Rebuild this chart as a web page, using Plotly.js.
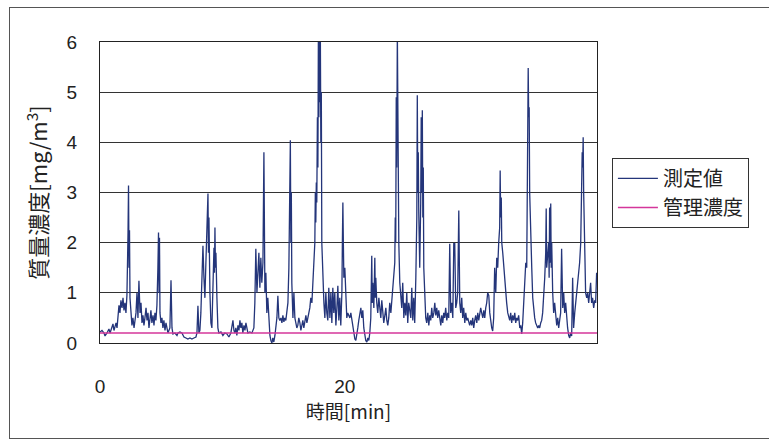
<!DOCTYPE html>
<html>
<head>
<meta charset="utf-8">
<script src="https://cdn.plot.ly/plotly-3.0.1.min.js"></script>
<style>
  html, body { margin: 0; padding: 0; background: #ffffff; overflow: hidden; }
  #wrap { position: relative; width: 769px; height: 445px; }
  #frame { position: absolute; left: 9px; top: 7px; width: 800px; height: 432px; border: 1px solid #555; box-sizing: border-box; pointer-events: none; }
  #chart { position: absolute; left: 0; top: 0; width: 769px; height: 445px; }
</style>
</head>
<body>
<div id="wrap">
  <div id="chart"></div>
  <div id="frame"></div>
</div>
<script>
// time [min]
const timeMin = [
  0.00,0.16,0.33,0.41,0.57,0.73,0.82,0.98,1.06,1.14,1.22,1.31,1.39,1.47,1.55,1.63,1.71,1.80,1.88,1.96,
  2.04,2.12,2.20,2.29,2.33,2.37,2.41,2.45,2.53,2.61,2.69,2.78,2.86,2.94,3.02,3.10,3.18,3.27,3.35,3.43,
  3.51,3.59,3.67,3.76,3.84,3.92,4.00,4.08,4.16,4.24,4.33,4.41,4.49,4.57,4.65,4.73,4.78,4.82,4.86,4.90,
  4.98,5.06,5.14,5.22,5.31,5.39,5.47,5.55,5.71,5.80,5.88,5.96,6.12,6.29,6.37,6.53,
  6.69,6.86,7.02,7.18,7.35,7.51,7.67,7.84,7.92,8.00,8.08,8.16,8.24,8.33,8.41,8.49,8.57,8.65,8.73,8.82,
  8.86,8.90,8.98,9.06,9.14,9.22,9.31,9.35,9.39,9.43,9.47,9.55,9.63,9.71,9.88,10.04,10.20,10.37,10.53,10.69,
  10.86,10.94,11.02,11.10,11.18,11.27,11.35,11.43,11.51,11.59,11.67,11.76,11.84,11.92,12.00,12.08,12.24,12.41,12.57,
  12.65,12.73,12.82,12.90,12.98,13.06,13.14,13.22,13.31,13.39,13.43,13.47,13.55,13.63,13.71,13.80,13.88,13.96,14.04,14.12,
  14.20,14.29,14.37,14.45,14.53,14.61,14.69,14.78,14.86,14.94,15.02,15.10,15.18,15.27,15.35,15.43,15.47,15.51,15.55,15.59,
  15.63,15.67,15.76,15.84,15.92,16.00,16.08,16.16,16.24,16.33,16.41,16.49,16.57,16.65,16.73,16.82,16.90,16.98,17.06,17.14,
  17.22,17.31,17.39,17.47,17.55,17.59,17.63,17.67,17.71,17.76,17.80,17.84,17.88,17.92,17.96,18.00,18.04,18.08,18.12,18.20,
  18.29,18.37,18.45,18.53,18.61,18.69,18.78,18.86,18.94,19.02,19.10,19.18,19.27,19.35,19.43,19.51,19.59,19.67,19.76,19.80,
  19.84,19.88,19.92,
  20.00,20.08,20.16,20.24,20.33,20.41,20.49,20.57,20.65,20.73,20.82,20.90,20.98,21.06,21.14,21.22,21.31,21.39,21.47,21.55,
  21.63,21.71,21.80,21.88,21.96,22.04,22.12,22.20,22.24,22.29,22.37,22.45,22.49,22.53,22.61,22.69,22.78,22.86,22.94,23.02,
  23.10,23.18,23.27,23.35,23.43,23.51,23.59,23.67,23.76,23.84,23.92,24.00,24.08,24.12,24.16,24.20,24.24,24.29,24.33,24.37,
  24.41,24.49,24.57,24.65,24.73,24.82,24.90,24.98,25.06,25.14,25.22,25.31,25.39,25.47,25.55,25.63,25.71,25.80,25.88,25.92,
  25.96,26.00,26.04,26.12,26.20,26.24,26.29,26.33,26.37,26.41,26.45,26.53,26.61,26.69,
  26.78,26.86,26.94,27.02,27.10,27.18,27.27,27.35,27.43,27.51,27.59,27.67,27.76,27.84,27.92,28.00,28.08,28.16,28.24,28.33,
  28.41,28.49,28.57,28.65,28.73,28.82,28.90,28.98,29.06,29.14,29.22,29.31,29.39,29.47,29.55,29.63,29.71,29.80,29.88,29.96,
  30.04,30.12,30.20,30.29,30.37,30.45,30.53,30.61,30.69,30.78,30.86,30.94,31.02,31.10,31.18,31.27,31.35,31.43,31.51,31.59,
  31.67,31.76,31.84,31.92,32.00,32.08,32.16,32.24,32.33,32.41,32.49,32.57,32.65,32.69,32.73,32.78,32.82,32.90,32.98,33.06,
  33.14,33.22,33.31,33.39,
  33.47,33.55,33.63,33.71,33.80,33.88,33.96,34.04,34.12,34.20,34.29,34.37,34.45,34.53,34.61,34.69,34.78,34.86,34.90,34.94,
  34.98,35.02,35.06,35.10,35.14,35.18,35.27,35.35,35.43,35.51,35.59,35.67,35.76,35.84,35.92,36.00,36.08,36.16,36.24,36.33,
  36.41,36.45,36.49,36.57,36.65,36.69,36.73,36.78,36.82,36.86,36.90,36.98,37.06,37.14,37.22,37.31,37.39,37.47,37.55,37.63,
  37.71,37.76,37.80,37.88,37.96,38.04,38.12,38.20,38.29,38.37,38.45,38.53,38.61,38.65,38.69,38.78,38.86,38.94,39.02,39.10,
  39.18,39.27,39.35,39.39,39.43,39.47,39.51,39.59,39.67,39.76,39.84,39.92,40.00,40.08,40.16,40.24,40.33,40.41,40.49,40.57
];
// 測定値 [mg/m3]
const measured = [
  0.22,0.25,0.20,0.14,0.20,0.28,0.20,0.30,0.38,0.25,0.35,0.40,0.30,0.55,0.75,0.60,0.85,0.70,0.90,0.65,
  0.80,0.60,0.95,2.20,3.14,1.50,2.25,0.90,0.50,0.35,0.50,0.30,0.45,0.60,1.00,0.50,1.24,0.60,0.80,0.40,
  0.55,0.35,0.50,0.70,0.45,0.60,0.30,0.50,0.65,0.40,0.55,0.35,0.60,0.45,0.75,1.50,2.20,1.00,2.10,0.60,
  0.40,0.50,0.30,0.45,0.25,0.40,0.30,0.20,0.30,1.25,0.30,0.18,0.20,0.15,0.20,0.22,
  0.20,0.12,0.10,0.08,0.10,0.08,0.10,0.12,0.20,0.74,0.20,0.25,0.60,1.20,1.94,1.30,0.90,1.60,2.20,2.98,
  1.80,2.50,1.00,0.40,0.30,0.90,1.90,1.40,2.30,1.50,1.80,0.90,0.30,0.20,0.22,0.15,0.20,0.18,0.12,0.20,
  0.45,0.25,0.20,0.30,0.15,0.35,0.25,0.45,0.30,0.40,0.20,0.35,0.25,0.40,0.30,0.20,0.22,0.20,0.30,
  0.80,1.88,1.00,1.40,1.80,1.10,1.70,1.20,1.60,3.80,1.50,1.00,1.40,0.60,0.90,0.30,0.15,0.05,0.00,0.10,
  0.02,0.15,0.30,0.50,0.94,0.50,0.45,0.50,0.40,0.55,0.42,0.50,0.45,0.60,0.80,1.50,3.00,2.50,4.04,2.00,
  3.00,1.20,0.50,1.00,0.50,0.40,0.30,0.35,0.50,0.40,0.25,0.35,0.45,0.30,0.45,0.55,0.40,0.50,0.60,0.70,
  0.90,0.80,1.20,1.60,2.00,3.00,2.40,3.20,2.80,4.50,3.50,6.20,4.50,6.20,4.80,6.20,4.00,5.00,2.00,1.20,
  0.80,0.50,1.00,0.60,0.45,1.10,0.50,1.00,0.40,1.10,0.60,1.00,0.35,0.70,1.14,0.45,0.90,0.35,1.00,2.00,
  2.80,2.00,1.30,
  1.50,0.80,0.50,0.60,0.55,0.50,0.60,0.45,0.30,0.15,0.08,0.05,0.15,0.30,0.45,0.55,0.70,0.50,0.65,0.30,
  0.10,0.05,0.02,0.10,0.05,0.20,0.50,1.74,0.80,1.20,0.70,1.70,0.90,1.30,0.80,0.60,0.90,0.70,0.50,0.85,
  0.60,0.40,0.55,0.70,0.45,0.35,0.50,0.80,0.60,0.90,1.00,1.30,1.60,2.50,2.00,4.90,3.50,6.20,4.00,5.00,
  2.00,1.20,1.00,0.70,1.20,0.50,0.80,0.55,1.00,0.40,0.80,0.60,0.50,1.10,0.45,0.90,0.40,1.30,2.50,4.94,
  3.00,3.80,2.60,1.50,2.80,4.50,3.00,4.64,2.50,3.50,1.50,0.80,0.50,0.40,
  0.60,0.35,0.55,0.45,0.70,0.50,0.60,0.80,0.55,0.70,0.50,0.65,0.45,0.35,0.55,0.40,0.60,0.50,0.70,0.45,
  0.60,0.50,1.98,0.60,0.80,0.50,1.98,1.98,0.70,0.80,1.00,2.64,0.80,0.60,0.90,0.50,0.70,0.40,0.60,0.45,
  0.50,0.40,0.35,0.45,0.35,0.50,0.30,0.45,0.55,0.40,0.60,0.45,0.55,0.70,0.60,0.50,0.65,0.50,0.70,0.80,
  1.00,0.95,0.60,0.40,0.30,0.24,0.50,1.50,1.00,1.70,1.50,2.00,2.30,3.44,2.50,2.90,2.00,1.80,1.50,1.20,
  0.90,0.80,0.60,0.50,
  0.45,0.60,0.40,0.55,0.45,0.60,0.40,0.50,0.45,0.55,0.30,0.35,0.18,0.40,0.90,1.40,1.60,1.50,3.00,4.70,
  5.48,4.50,4.70,3.00,2.50,2.00,1.50,0.90,0.60,0.50,0.40,0.35,0.30,0.35,0.30,0.40,0.45,0.60,0.90,1.30,
  1.80,2.68,1.50,1.70,2.00,1.30,2.70,1.60,2.78,1.50,2.00,1.00,0.60,0.80,0.50,0.35,0.50,0.30,0.45,0.60,
  1.88,0.90,0.70,1.00,0.60,0.80,0.50,0.30,0.15,0.10,0.20,0.14,1.30,0.50,0.30,0.60,0.90,1.00,1.20,1.40,
  1.60,2.00,2.80,3.80,3.50,4.10,3.00,1.50,1.00,0.90,1.00,0.80,0.95,1.20,0.80,0.90,0.70,0.85,0.80,1.40
];
// 管理濃度 [mg/m3]
const limitTime = [0, 40.6];
const limitConc = [0.2, 0.2];

const xTickVals = [0, 20];
const yTickVals = [0, 1, 2, 3, 4, 5, 6];

const FONT = '"Liberation Sans", "Noto Sans CJK JP", Arial, sans-serif';
const JFONT = '"Noto Sans CJK JP", "Liberation Sans", sans-serif';

const traces = [
  {
    x: timeMin, y: measured, type: 'scatter', mode: 'lines', name: '測定値',
    line: { color: '#24357a', width: 1.3 }
  },
  {
    x: limitTime, y: limitConc, type: 'scatter', mode: 'lines', name: '管理濃度',
    line: { color: '#d4369a', width: 1.5 }
  }
];

const layout = {
  width: 769, height: 445,
  margin: { l: 100, r: 172, t: 42, b: 102 },
  paper_bgcolor: '#ffffff', plot_bgcolor: '#ffffff',
  font: { family: FONT, size: 19, color: '#222' },
  showlegend: true,
  legend: {
    x: 1.03, y: 0.615, xanchor: 'left', yanchor: 'top',
    bordercolor: '#333', borderwidth: 1, bgcolor: '#ffffff',
    font: { family: JFONT, size: 20, color: '#222' },
    itemwidth: 40, tracegroupgap: 0
  },
  xaxis: {
    range: [0, 40.6], tickvals: xTickVals, ticktext: xTickVals.map(String),
    tickfont: { family: FONT, size: 19, color: '#222' },
    showgrid: false, zeroline: false, showline: true, linecolor: '#222', linewidth: 1, mirror: true,
    ticks: 'outside', ticklen: 26, tickcolor: 'rgba(0,0,0,0)',
    title: { text: '時間[min]', font: { family: JFONT, size: 19, color: '#222' }, standoff: 6 }
  },
  yaxis: {
    range: [0, 6], tickvals: yTickVals,
    tickfont: { family: FONT, size: 19, color: '#222' },
    showgrid: true, gridcolor: '#333', gridwidth: 1, zeroline: false,
    showline: true, linecolor: '#222', linewidth: 1, mirror: true,
    ticks: 'outside', ticklen: 18, tickcolor: 'rgba(0,0,0,0)',
    title: { text: '質量濃度[mg/m<sup>3</sup>]', font: { family: JFONT, size: 22, color: '#222' }, standoff: 12 }
  }
};

Plotly.newPlot('chart', traces, layout, { displayModeBar: false, staticPlot: true });
</script>
</body>
</html>
